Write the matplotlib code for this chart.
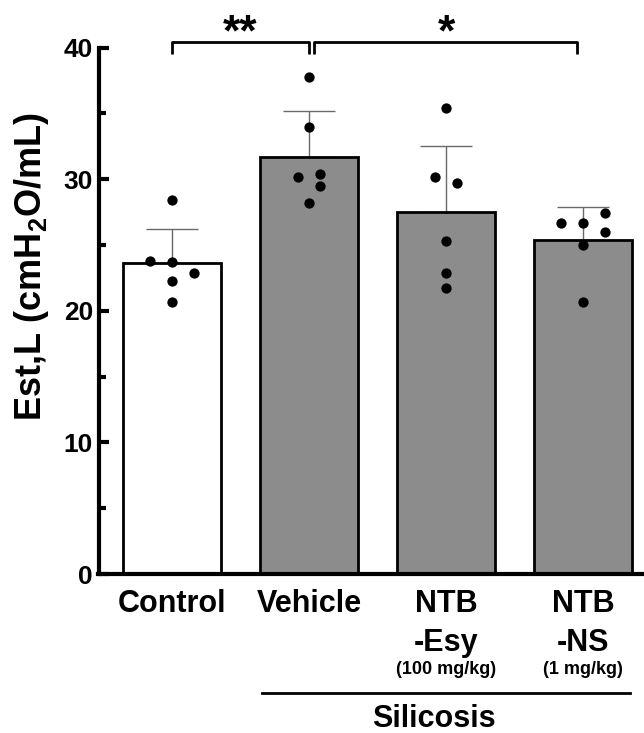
import numpy as np
import matplotlib
matplotlib.use("Agg")
import matplotlib.pyplot as plt

plt.rcParams["font.family"] = ["Liberation Sans", "DejaVu Sans"]
plt.rcParams["font.weight"] = "bold"
plt.rcParams["mathtext.fontset"] = "custom"
plt.rcParams["mathtext.rm"] = "Liberation Sans:bold"
plt.rcParams["mathtext.bf"] = "Liberation Sans:bold"

# data
groups = ["Control", "Vehicle", "NTB\n-Esy", "NTB\n-NS"]
doses = ["", "", "(100 mg/kg)", "(1 mg/kg)"]
means = [23.6, 31.7, 27.5, 25.4]
sds = [2.6, 3.5, 5.0, 2.5]
control_pts = [28.4, 23.8, 23.7, 22.9, 22.3, 20.65]
vehicle_pts = [37.8, 34.0, 30.2, 30.4, 29.5, 28.2]
esy_pts = [35.4, 30.15, 29.7, 25.3, 22.9, 21.7]
ns_pts = [26.65, 26.7, 27.4, 26.0, 25.0, 20.65]
points = [control_pts, vehicle_pts, esy_pts, ns_pts]
# horizontal scatter of the dots (fraction of bar pitch)
jitter = [
    [0, -0.16, 0, 0.16, 0, 0],
    [0, 0, -0.08, 0.08, 0.08, 0],
    [0, -0.08, 0.08, 0, 0, 0],
    [-0.16, 0, 0.16, 0.16, 0, 0],
]
bar_colors = ["white", "#8c8c8c", "#8c8c8c", "#8c8c8c"]

fig = plt.figure(figsize=(6.44, 7.33), dpi=100)
ax = fig.add_axes([98.5 / 644, 159 / 733, 543.5 / 644, 526.3 / 733])

x = np.arange(len(groups))
ax.errorbar(x, means, yerr=[np.zeros(len(sds)), sds], fmt="none",
            ecolor="#6a6a6a", elinewidth=1.0, capsize=19, capthick=1.0,
            zorder=1)
ax.bar(x, means, width=0.72, color=bar_colors, edgecolor="black",
       linewidth=2.0, zorder=2)
for i, pts in enumerate(points):
    ax.scatter(i + np.array(jitter[i]), pts, s=55, color="black",
               zorder=3, linewidths=0)

ax.set_xlim(-0.536, 3.43)
ax.set_ylim(0, 40)
ax.spines["top"].set_visible(False)
ax.spines["right"].set_visible(False)
ax.spines["left"].set_linewidth(3)
ax.spines["bottom"].set_linewidth(3)

ax.set_yticks([0, 10, 20, 30, 40])
ax.set_yticks([5, 15, 25, 35], minor=True)
ax.tick_params(axis="y", which="major", direction="in", length=7.5,
               width=3, pad=4, labelsize=19)
ax.tick_params(axis="y", which="minor", direction="in", length=5, width=3)
ax.set_xticks(x)
ax.set_xticklabels(groups, fontsize=22, fontweight="bold", linespacing=1.4)
ax.tick_params(axis="x", length=0, pad=11)

for i, d in enumerate(doses):
    if d:
        ax.annotate(d, xy=(i, -0.165), xycoords=("data", "axes fraction"),
                    ha="center", va="top", fontsize=13, fontweight="bold",
                    annotation_clip=False)

fig.text(32 / 644, 1 - 267 / 733, r"Est,L (cmH$_2$O/mL)", rotation=90,
         ha="center", va="center", fontsize=26, fontweight="bold")

# significance brackets
def bracket(x0, x1, xt, label):
    ax.plot([x0, x0, x1, x1], [39.5, 40.4, 40.4, 39.5], color="black",
            lw=2, clip_on=False, solid_capstyle="butt")
    ax.text(xt, 39.5, label, ha="center", va="bottom", fontsize=32,
            fontweight="bold")

bracket(0, 0.998, 0.5, "**")
bracket(1.04, 2.956, 2.0, "*")

# silicosis group line
ax.plot([0.657, 3.343], [-0.226, -0.226], color="black", lw=2,
        transform=ax.get_xaxis_transform(), clip_on=False)
ax.annotate("Silicosis", xy=(1.91, -0.29), xycoords=("data", "axes fraction"),
            ha="center", va="baseline", fontsize=22, fontweight="bold",
            annotation_clip=False)

fig.savefig("out.png", dpi=100)
